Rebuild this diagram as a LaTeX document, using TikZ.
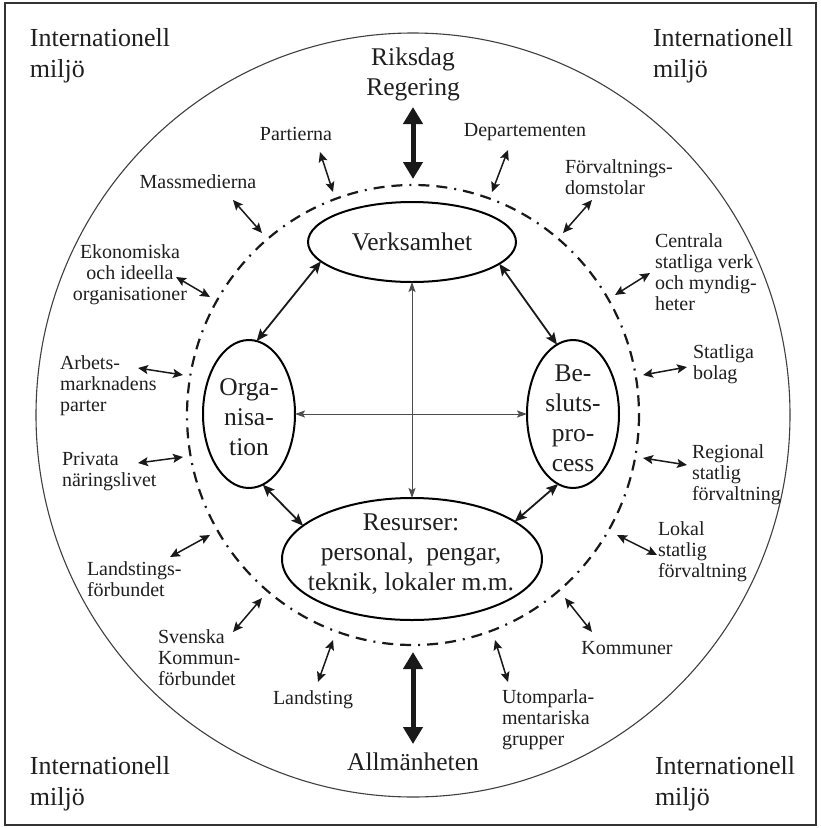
\documentclass[tikz,border=0pt]{standalone}
\usepackage{fontspec}
\setmainfont{Liberation Serif}
\usetikzlibrary{arrows.meta,shapes.geometric}

\tikzset{
  every node/.style={inner sep=0pt, outer sep=0pt, text=black!88},
  bigtxt/.style={font=\fontsize{25.5}{30}\selectfont, align=center},
  cornertxt/.style={font=\fontsize{26}{31}\selectfont, align=left, anchor=west},
  lbl/.style={font=\fontsize{20}{21}\selectfont, align=left, anchor=west},
  lblc/.style={font=\fontsize{20}{21}\selectfont, align=center},
  oval/.style={ellipse, draw=black, line width=2pt},
  sarr/.style={line width=1.5pt, draw=black!90,
    arrows={Stealth[length=10pt,width=9pt,inset=2pt]-Stealth[length=10pt,width=9pt,inset=2pt]}},
  iarr/.style={line width=1.8pt, draw=black!90,
    arrows={Stealth[length=12pt,width=10pt,inset=2.5pt]-Stealth[length=12pt,width=10pt,inset=2.5pt]}},
  xarr/.style={line width=1pt, draw=black!70,
    arrows={Stealth[length=10pt,width=7pt,inset=2pt]-Stealth[length=10pt,width=7pt,inset=2pt]}},
  bigarr/.style={line width=5pt, draw=black!90,
    arrows={Triangle[length=17pt,width=19pt]-Triangle[length=17pt,width=19pt]}},
  rim/.style={draw=black!75, line width=1.1pt},
  boundary/.style={draw=black!90, line width=2.2pt,
    dash pattern=on 11pt off 7pt on 11pt off 7pt on 2pt off 7pt},
}

\begin{document}
\begin{tikzpicture}[x=1pt,y=-1pt]
  \useasboundingbox (0,0) rectangle (820,828);
  \fill[white] (0,0) rectangle (820,828);
  % frame
  \draw[draw=black!80, line width=2.5pt] (5,3) rectangle (816,825);

  % outer environment circle and the organisation boundary
  \draw[rim] (413,415) ellipse [x radius=377, y radius=382];
  \draw[boundary] (413,415) ellipse [x radius=226, y radius=230];

  % corner texts
  \node[cornertxt] (itl) at (30,56) {Internationell\\miljö};
  \node[cornertxt] (itr) at (653,56) {Internationell\\miljö};
  \node[cornertxt] (ibl) at (30,784) {Internationell\\miljö};
  \node[cornertxt] (ibr) at (655,784) {Internationell\\miljö};

  % top and bottom actors
  \node[bigtxt] (rik) at (413,74) {Riksdag\\Regering};
  \node[bigtxt] (allm) at (413,762) {Allmänheten};
  \coordinate (rikA) at (413,107);
  \coordinate (rikB) at (413,179);
  \coordinate (allA) at (413,652);
  \coordinate (allB) at (413,744);
  \draw[bigarr] (rikA) -- (rikB);
  \draw[bigarr] (allA) -- (allB);

  % the four inner parts
  \node[oval, minimum width=208pt, minimum height=80pt] (verk) at (412,242) {};
  \node[bigtxt] (verkt) at (verk) {Verksamhet};
  \node[oval, minimum width=92pt, minimum height=148pt] (org) at (249,414) {};
  \node[bigtxt] (orgt) at (249,417) {Orga-\\nisa-\\tion};
  \node[oval, minimum width=92pt, minimum height=148pt] (bes) at (573,414) {};
  \node[bigtxt] (best) at (573,418) {Be-\\sluts-\\pro-\\cess};
  \node[oval, minimum width=260pt, minimum height=122pt] (res) at (412,559) {};
  \node[bigtxt] (rest) at (411,554) {Resurser:\\personal,\ \ pengar,\\teknik, lokaler m.m.};

  % links between the inner parts
  \draw[iarr] (verk.192) -- (org.84);
  \draw[iarr] (verk.-14) -- (bes.103);
  \draw[iarr] (org.-79) -- (res.163);
  \draw[iarr] (bes.-102) -- (res.20);
  \draw[xarr] (verk.south) -- (res.north);
  \draw[xarr] (org.east) -- (bes.west);

  % surrounding actors
  \node[lblc] (par) at (296,134) {Partierna};
  \node[lblc] (dep) at (525,132) {Departementen};
  \node[lblc] (mas) at (198,182) {Massmedierna};
  \node[lbl] (fdo) at (565,177) {Förvaltnings-\\domstolar};
  \node[lblc] (eko) at (130,275) {Ekonomiska\\och ideella\\organisationer};
  \node[lbl] (cen) at (655,272) {Centrala\\statliga verk\\och myndig-\\heter};
  \node[lbl] (arb) at (60,386) {Arbets-\\marknadens\\parter};
  \node[lbl] (sbo) at (693,364) {Statliga\\bolag};
  \node[lbl] (pri) at (62,472) {Privata\\näringslivet};
  \node[lbl] (reg) at (692,475) {Regional\\statlig\\förvaltning};
  \node[lbl] (lsf) at (87,579) {Landstings-\\förbundet};
  \node[lbl] (lok) at (658,552) {Lokal\\statlig\\förvaltning};
  \node[lbl] (svk) at (158,658) {Svenska\\Kommun-\\förbundet};
  \node[lblc] (kom) at (627,648) {Kommuner};
  \node[lblc] (lst) at (313,700) {Landsting};
  \node[lbl] (utp) at (502,720) {Utomparla-\\mentariska\\grupper};

  % arrow ends for the surrounding actors
  \coordinate (parA) at (320,152);  \coordinate (parB) at (333,192);
  \coordinate (depA) at (508,150);  \coordinate (depB) at (492,192);
  \coordinate (masA) at (233,200);  \coordinate (masB) at (262,233);
  \coordinate (fdoA) at (592,200);  \coordinate (fdoB) at (563,233);
  \coordinate (ekoA) at (176,277);  \coordinate (ekoB) at (210,297);
  \coordinate (cenA) at (650,273);  \coordinate (cenB) at (615,295);
  \coordinate (arbA) at (138,368);  \coordinate (arbB) at (183,375);
  \coordinate (sboA) at (687,367);  \coordinate (sboB) at (643,375);
  \coordinate (priA) at (138,463);  \coordinate (priB) at (183,457);
  \coordinate (regA) at (687,465);  \coordinate (regB) at (643,458);
  \coordinate (lsfA) at (170,557);  \coordinate (lsfB) at (210,535);
  \coordinate (lokA) at (657,555);  \coordinate (lokB) at (617,535);
  \coordinate (svkA) at (233,632);  \coordinate (svkB) at (262,598);
  \coordinate (komA) at (592,632);  \coordinate (komB) at (565,598);
  \coordinate (lstA) at (318,682);  \coordinate (lstB) at (333,640);
  \coordinate (utpA) at (508,682);  \coordinate (utpB) at (495,640);

  \foreach \k in {par,dep,mas,fdo,eko,cen,arb,sbo,pri,reg,lsf,lok,svk,kom,lst,utp}
    \draw[sarr] (\k A) -- (\k B);
\end{tikzpicture}
\end{document}
